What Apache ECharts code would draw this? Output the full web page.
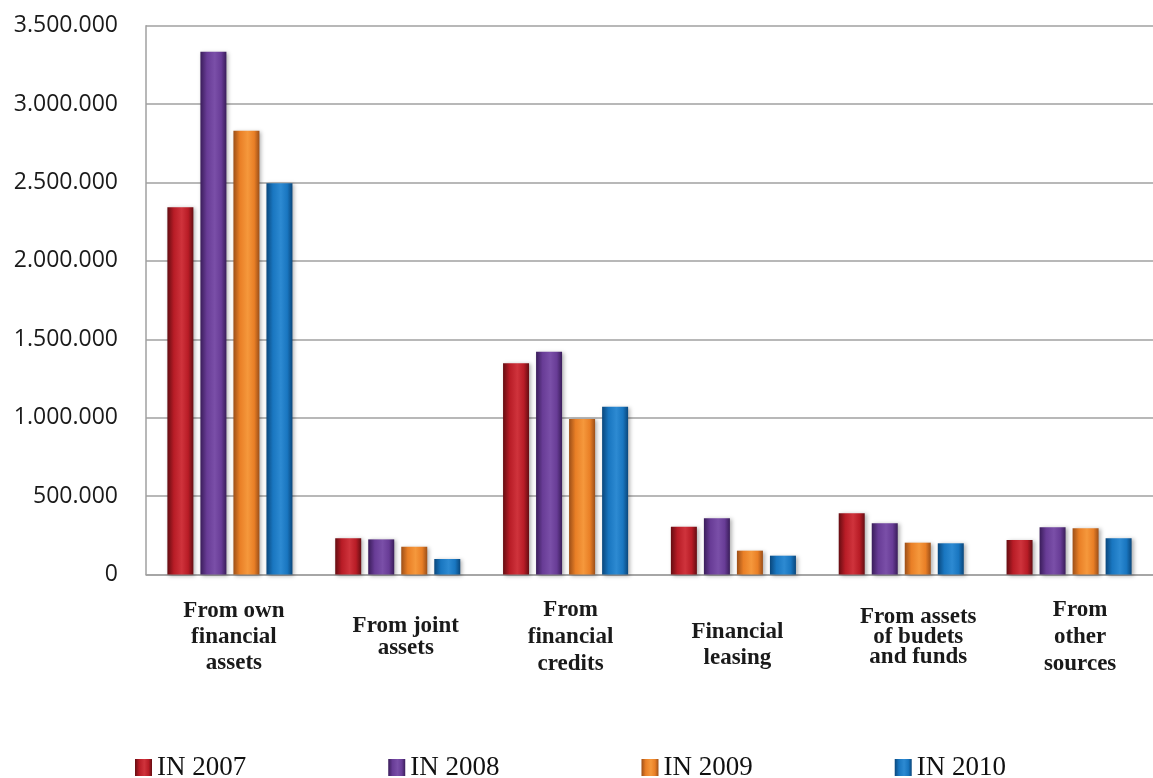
<!DOCTYPE html>
<html>
<head>
<meta charset="utf-8">
<script src="https://cdn.jsdelivr.net/npm/echarts@6/dist/echarts.min.js"></script>
<style>
html,body{margin:0;padding:0;background:#fff;}
#chart{width:1153px;height:778px;}
</style>
</head>
<body>
<div id="chart"></div>
<script>
var categories = [
  'From own\nfinancial\nassets',
  'From joint\nassets',
  'From\nfinancial\ncredits',
  'Financial\nleasing',
  'From assets\nof budets\nand funds',
  'From\nother\nsources'
];
var seriesNames = ['IN 2007', 'IN 2008', 'IN 2009', 'IN 2010'];
var values2007 = [2342000, 231000, 1347000, 305000, 390000, 220000];
var values2008 = [3334000, 224000, 1421000, 358000, 327000, 301000];
var values2009 = [2830000, 177000, 992000, 152000, 203000, 295000];
var values2010 = [2495000, 99000, 1070000, 120000, 199000, 231000];
var yTicks = [0, 500000, 1000000, 1500000, 2000000, 2500000, 3000000, 3500000];

var palette = [
  {edge:'#650d12', mid:'#b81c26', light:'#cf333c'},
  {edge:'#3a1d5a', mid:'#683c96', light:'#7a4fa8'},
  {edge:'#9c4f18', mid:'#e97f26', light:'#f5983c'},
  {edge:'#0a477c', mid:'#1976c0', light:'#2d8ad2'}
];
function grad(p){
  return new echarts.graphic.LinearGradient(0,0,1,0,[
    {offset:0, color:p.edge},
    {offset:0.25, color:p.mid},
    {offset:0.55, color:p.light},
    {offset:0.8, color:p.mid},
    {offset:1, color:p.edge}
  ]);
}
function fmt(v){
  return String(v).replace(/\B(?=(\d{3})+(?!\d))/g, '.');
}
var allValues = [values2007, values2008, values2009, values2010];
var labelStyles = ['c0','c1','c2','c3','c4','c5'];
var base = {fontFamily:'Liberation Serif', fontWeight:'bold', fontSize:23, color:'#1a1a1a', align:'center'};
function rs(lh, padLeft){
  return Object.assign({}, base, {lineHeight: lh, padding:[0,0,0,padLeft]});
}
var rich = {
  c0: rs(26, 8),
  c1: rs(22, 16),
  c2: rs(27, 10),
  c3: rs(26, 8),
  c4: rs(20, 34),
  c5: rs(27, 22),
  sp: {fontSize: 1, lineHeight: 16}
};

var chart = echarts.init(document.getElementById('chart'), null, {renderer:'canvas'});
chart.setOption({
  animation:false,
  backgroundColor:'#ffffff',
  grid:{left:146, top:25.7, width:1019, height:548.8, containLabel:false},
  legend:{
    data: seriesNames,
    left:130, top:749,
    itemWidth:17, itemHeight:17, itemGap:142,
    icon:'rect',
    textStyle:{fontFamily:'Liberation Serif', fontSize:27, color:'#111'}
  },
  xAxis:{
    type:'category',
    data: categories,
    axisLine:{show:true, lineStyle:{color:'#a0a0a0', width:1.5}},
    axisTick:{show:false},
    axisLabel:{
      interval:0,
      margin:63,
      verticalAlign:'middle',
      formatter:function(v, i){
        var st = labelStyles[i];
        var lines = v.split('\n').map(function(l){return '{'+st+'|'+l+'}';});
        if (i === 3) { lines.unshift('{sp| }'); }
        return lines.join('\n');
      },
      rich: rich
    }
  },
  yAxis:{
    type:'value',
    min:0, max:3500000, interval:500000,
    axisLine:{show:true, lineStyle:{color:'#a0a0a0', width:1.5}},
    axisTick:{show:false},
    splitLine:{show:true, lineStyle:{color:'#a0a0a0', width:1.5}},
    axisLabel:{
      margin:28,
      fontFamily:'Open Sans', fontSize:23, color:'#1a1a1a',
      customValues: yTicks,
      formatter:function(v){ return fmt(v); }
    }
  },
  series: seriesNames.map(function(n, k){
    return {
      name:n, type:'bar',
      data: allValues[k],
      barWidth:26, barGap:'27%',
      itemStyle:{
        color: grad(palette[k]),
        shadowBlur:4, shadowColor:'rgba(0,0,0,0.3)', shadowOffsetX:2, shadowOffsetY:1
      }
    };
  })
});
</script>
</body>
</html>
